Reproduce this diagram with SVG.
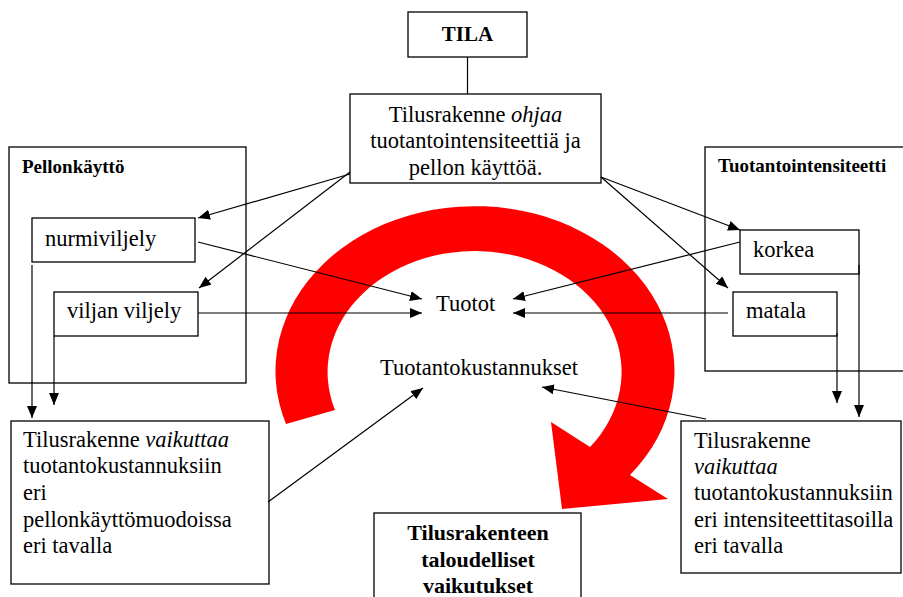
<svg xmlns="http://www.w3.org/2000/svg" width="903" height="597" viewBox="0 0 903 597" font-family="'Liberation Serif', 'Times New Roman', Times, 'DejaVu Serif', serif">
<style>
.box{fill:none;stroke:#000;stroke-width:1.3}
.t{font-family:'Liberation Serif','Times New Roman',Times,'DejaVu Serif',serif;font-size:22.5px;fill:#000}
.b{font-family:'Liberation Serif','Times New Roman',Times,'DejaVu Serif',serif;font-weight:bold;fill:#000}
.c{text-anchor:middle}
.ln{fill:none;stroke:#000;stroke-width:1.2}
.ar{marker-end:url(#ah)}
</style>
<defs>
<marker id="ah" markerUnits="userSpaceOnUse" markerWidth="13" markerHeight="11" refX="12" refY="5" orient="auto">
<path d="M0,0 L12,5 L0,10 Z" fill="#000"/>
</marker>
</defs>
<rect width="903" height="597" fill="#fff"/>

<g id="red-arrow">
<path d="M335,410 L286,424 A199.5,165 0 1 1 630,475 L668,499 L562,509 L551,422 L590,447 A147,121 0 1 0 335,410 Z" fill="#ff0000"/>
</g>

<g id="tila">
<rect class="box" x="408" y="12" width="119" height="45"/>
<text class="b c" x="467.5" y="41" font-size="21">TILA</text>
</g>

<g id="ohjaa">
<rect class="box" x="350" y="94" width="251" height="89" fill="#fff"/>
<text class="t c" x="475.5" y="122">Tilusrakenne <tspan font-style="italic">ohjaa</tspan></text>
<text class="t c" x="475.5" y="148">tuotantointensiteettiä ja</text>
<text class="t c" x="475.5" y="175">pellon käyttöä.</text>
</g>

<g id="pellonkaytto">
<rect class="box" x="9" y="147" width="237" height="236"/>
<text class="b" x="22" y="173" font-size="19">Pellonkäyttö</text>
</g>

<g id="nurmiviljely">
<rect class="box" x="32" y="218" width="163" height="44"/>
<text class="t" x="45" y="246">nurmiviljely</text>
</g>

<g id="viljanviljely">
<rect class="box" x="54" y="292" width="144" height="44"/>
<text class="t" x="67" y="318">viljan viljely</text>
</g>

<g id="tuotantointensiteetti">
<rect class="box" x="705" y="147" width="230" height="224"/>
<text class="b" x="718" y="172" font-size="19">Tuotantointensiteetti</text>
</g>

<g id="korkea">
<rect class="box" x="740" y="230" width="119" height="44"/>
<text class="t" x="753" y="257">korkea</text>
</g>

<g id="matala">
<rect class="box" x="733" y="292" width="104" height="44"/>
<text class="t" x="746" y="318">matala</text>
</g>

<g id="tuotot">
<text class="t" x="436" y="311">Tuotot</text>
</g>

<g id="tuotantokustannukset">
<text class="t" x="380" y="375">Tuotantokustannukset</text>
</g>

<g id="vaikuttaa-pellon">
<rect class="box" x="11" y="421" width="258" height="163"/>
<text class="t" x="23" y="447">Tilusrakenne <tspan font-style="italic">vaikuttaa</tspan></text>
<text class="t" x="23" y="473">tuotantokustannuksiin</text>
<text class="t" x="23" y="500">eri</text>
<text class="t" x="23" y="527">pellonkäyttömuodoissa</text>
<text class="t" x="23" y="553">eri tavalla</text>
</g>

<g id="vaikuttaa-intensiteetti">
<rect class="box" x="681" y="421" width="220" height="152"/>
<text class="t" x="694" y="448">Tilusrakenne</text>
<text class="t" x="694" y="474" font-style="italic">vaikuttaa</text>
<text class="t" x="694" y="500">tuotantokustannuksiin</text>
<text class="t" x="694" y="527">eri intensiteettitasoilla</text>
<text class="t" x="694" y="553">eri tavalla</text>
</g>

<g id="taloudelliset">
<rect class="box" x="374" y="513" width="207" height="100"/>
<text class="b c" x="478" y="540" font-size="22">Tilusrakenteen</text>
<text class="b c" x="478" y="567" font-size="22">taloudelliset</text>
<text class="b c" x="478" y="593" font-size="22">vaikutukset</text>
</g>

<g id="connectors">
<line class="ln" x1="467.5" y1="57" x2="467.5" y2="94"/>
<line class="ln ar" x1="350" y1="174" x2="198" y2="218"/>
<line class="ln ar" x1="350" y1="172" x2="199" y2="288"/>
<line class="ln ar" x1="601" y1="177" x2="740" y2="230"/>
<line class="ln ar" x1="601" y1="177" x2="728" y2="288"/>
<line class="ln ar" x1="198" y1="242" x2="422" y2="299"/>
<line class="ln ar" x1="198" y1="313" x2="422" y2="313"/>
<line class="ln ar" x1="740" y1="242" x2="513" y2="299"/>
<line class="ln ar" x1="728" y1="313" x2="513" y2="313"/>
<line class="ln ar" x1="32" y1="265" x2="32" y2="418"/>
<line class="ln ar" x1="54" y1="336" x2="54" y2="405"/>
<line class="ln ar" x1="837" y1="333" x2="837" y2="403"/>
<line class="ln ar" x1="859" y1="265" x2="859" y2="417"/>
<line class="ln ar" x1="268" y1="502" x2="423" y2="388"/>
<line class="ln ar" x1="706" y1="419" x2="542" y2="387"/>
</g>
</svg>
